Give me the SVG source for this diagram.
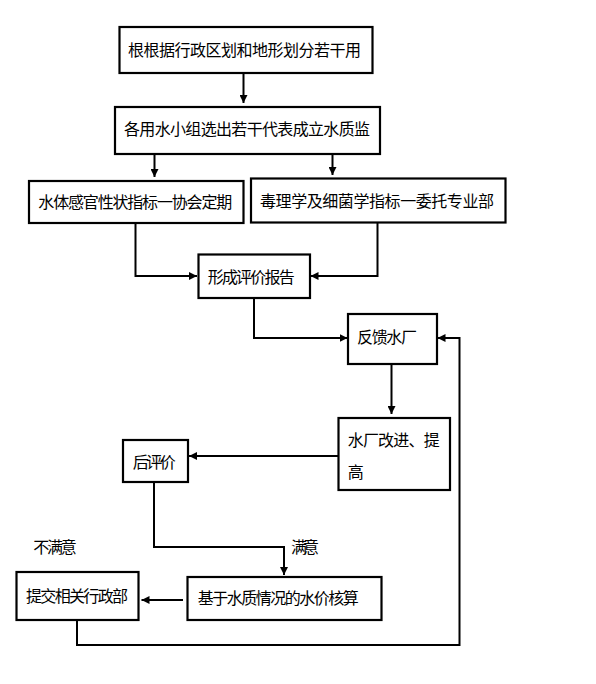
<svg xmlns="http://www.w3.org/2000/svg" width="596" height="684" viewBox="0 0 596 684">
<style>
.box{fill:#fff;stroke:#000;stroke-width:2.2}
.t{font-family:"Noto Sans CJK SC","Liberation Sans",sans-serif;font-size:16px;fill:#000}
.c{fill:none;stroke:#000;stroke-width:2}
</style>
<defs>
<marker id="ah" markerUnits="userSpaceOnUse" markerWidth="9" markerHeight="8" refX="8" refY="4" orient="auto">
<path d="M0,0 L8,4 L0,8 z" fill="#000"/>
</marker>
</defs>
<rect width="596" height="684" fill="#fff"/>
<g id="connectors">
<path class="c" d="M243.5 73 V103" marker-end="url(#ah)"/>
<path class="c" d="M154.5 154 V177" marker-end="url(#ah)"/>
<path class="c" d="M332.5 154 V175" marker-end="url(#ah)"/>
<path class="c" d="M135.5 223 V276 H197" marker-end="url(#ah)"/>
<path class="c" d="M377.5 222.5 V276 H310.5" marker-end="url(#ah)"/>
<path class="c" d="M254 298 V338 H347.5" marker-end="url(#ah)"/>
<path class="c" d="M391.5 364 V414" marker-end="url(#ah)"/>
<path class="c" d="M338 456 H189" marker-end="url(#ah)"/>
<path class="c" d="M154 482 V547 H284 V575" marker-end="url(#ah)"/>
<path class="c" d="M183 600 H141.5" marker-end="url(#ah)"/>
<path class="c" d="M77 620 V645 H459.5 V338 H437.5" marker-end="url(#ah)"/>
</g>
<g id="n1"><rect class="box" x="119.5" y="27" width="253" height="46"/><text class="t" x="128" y="56" textLength="233">根根据行政区划和地形划分若干用</text></g>
<g id="n2"><rect class="box" x="115" y="107" width="265" height="47"/><text class="t" x="124" y="135" textLength="246">各用水小组选出若干代表成立水质监</text></g>
<g id="n3"><rect class="box" x="29" y="181" width="214.5" height="42"/><text class="t" x="38.3" y="208" textLength="194">水体感官性状指标一协会定期</text></g>
<g id="n4"><rect class="box" x="251" y="178.5" width="254.5" height="44"/><text class="t" x="260" y="207" textLength="234">毒理学及细菌学指标一委托专业部</text></g>
<g id="n5"><rect class="box" x="198.5" y="254.5" width="111.5" height="43.5"/><text class="t" x="207.7" y="282.5" textLength="87">形成评价报告</text></g>
<g id="n6"><rect class="box" x="348" y="314" width="89" height="50"/><text class="t" x="357" y="342.5" textLength="60">反馈水厂</text></g>
<g id="n7"><rect class="box" x="338.5" y="418" width="111.5" height="72"/><text class="t" x="347.7" y="446" textLength="92">水厂改进、提</text><text class="t" x="347.7" y="477.5">高</text></g>
<g id="n8"><rect class="box" x="123" y="440" width="65" height="42"/><text class="t" x="132.7" y="467.5" textLength="43">后评价</text></g>
<g id="n9"><rect class="box" x="16.5" y="572" width="122" height="48"/><text class="t" x="26" y="602" textLength="102">提交相关行政部</text></g>
<g id="n10"><rect class="box" x="187.5" y="577" width="194" height="43"/><text class="t" x="197.7" y="603.5" textLength="161">基于水质情况的水价核算</text></g>
<g id="labels">
<text class="t" x="291" y="553" textLength="28">满意</text>
<text class="t" x="33.3" y="553" textLength="43.4">不满意</text>
</g>
</svg>
